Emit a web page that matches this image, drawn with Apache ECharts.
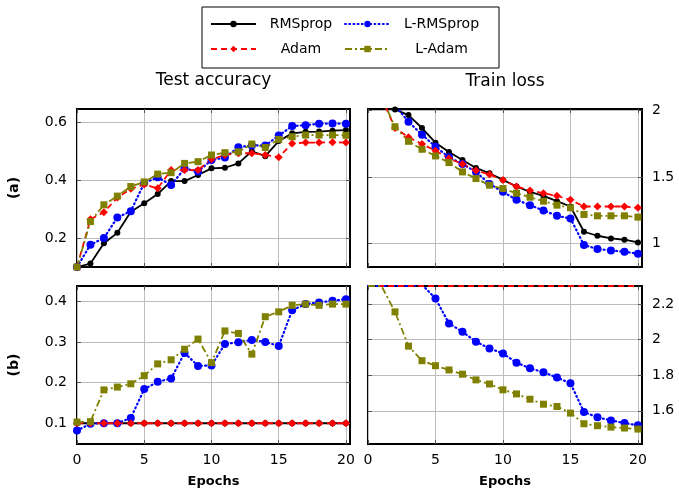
<!DOCTYPE html>
<html><head><meta charset="utf-8">
<script src="https://cdn.jsdelivr.net/npm/echarts@6/dist/echarts.min.js"></script>
<style>html,body{margin:0;padding:0;background:#fff}#c{width:679px;height:495px}</style>
</head><body><div id="c"></div><script>
const epochs = [0,1,2,3,4,5,6,7,8,9,10,11,12,13,14,15,16,17,18,19,20];
const xTicks = [0,5,10,15,20];
const yTicksAccA = [0.2,0.4,0.6];
const yTicksLossA = [1,1.5,2];
const yTicksAccB = [0.1,0.2,0.3,0.4];
const yTicksLossB = [1.6,1.8,2,2.2];

// (a) test accuracy
const accA_RMSprop  = [0.100,0.112,0.182,0.218,0.291,0.320,0.352,0.397,0.397,0.418,0.441,0.443,0.458,0.500,0.483,0.535,0.562,0.567,0.568,0.571,0.573];
const accA_LRMSprop = [0.100,0.177,0.200,0.271,0.293,0.390,0.410,0.383,0.440,0.430,0.470,0.478,0.514,0.520,0.520,0.554,0.587,0.590,0.595,0.596,0.595];
const accA_Adam     = [0.100,0.265,0.289,0.340,0.370,0.385,0.372,0.435,0.435,0.435,0.472,0.487,0.493,0.493,0.487,0.479,0.527,0.530,0.530,0.531,0.530];
const accA_LAdam    = [0.100,0.257,0.315,0.345,0.378,0.394,0.421,0.426,0.458,0.464,0.487,0.495,0.498,0.525,0.513,0.541,0.550,0.556,0.556,0.556,0.555];
// (a) train loss
const lossA_RMSprop  = [2.30,2.15,2.01,1.967,1.87,1.76,1.69,1.63,1.57,1.53,1.48,1.43,1.39,1.36,1.32,1.28,1.09,1.06,1.04,1.03,1.01];
const lossA_LRMSprop = [2.30,2.15,2.04,1.917,1.82,1.73,1.65,1.60,1.54,1.45,1.39,1.33,1.29,1.25,1.21,1.19,0.99,0.96,0.95,0.94,0.925];
const lossA_Adam     = [2.30,2.10,1.87,1.80,1.75,1.70,1.64,1.60,1.55,1.52,1.48,1.43,1.40,1.38,1.36,1.33,1.28,1.28,1.28,1.28,1.27];
const lossA_LAdam    = [2.30,2.10,1.88,1.77,1.71,1.66,1.61,1.54,1.49,1.44,1.415,1.38,1.35,1.32,1.29,1.27,1.22,1.21,1.21,1.21,1.20];
// (b) test accuracy
const accB_RMSprop  = [0.1,0.1,0.1,0.1,0.1,0.1,0.1,0.1,0.1,0.1,0.1,0.1,0.1,0.1,0.1,0.1,0.1,0.1,0.1,0.1,0.1];
const accB_LRMSprop = [0.082,0.099,0.100,0.100,0.113,0.184,0.202,0.210,0.273,0.241,0.242,0.295,0.299,0.305,0.300,0.290,0.378,0.393,0.397,0.401,0.405];
const accB_Adam     = [0.1,0.1,0.1,0.1,0.1,0.1,0.1,0.1,0.1,0.1,0.1,0.1,0.1,0.1,0.1,0.1,0.1,0.1,0.1,0.1,0.1];
const accB_LAdam    = [0.103,0.104,0.182,0.189,0.197,0.217,0.246,0.256,0.282,0.307,0.249,0.327,0.321,0.270,0.362,0.374,0.390,0.393,0.390,0.393,0.393];
// (b) train loss
const lossB_RMSprop  = [2.3026,2.3026,2.3026,2.3026,2.3026,2.3026,2.3026,2.3026,2.3026,2.3026,2.3026,2.3026,2.3026,2.3026,2.3026,2.3026,2.3026,2.3026,2.3026,2.3026,2.3026];
const lossB_LRMSprop = [2.3026,2.3026,2.3026,2.3026,2.31,2.232,2.092,2.045,1.989,1.951,1.923,1.871,1.839,1.817,1.787,1.755,1.593,1.563,1.546,1.531,1.518];
const lossB_Adam     = [2.3026,2.3026,2.3026,2.3026,2.3026,2.3026,2.3026,2.3026,2.3026,2.3026,2.3026,2.3026,2.3026,2.3026,2.3026,2.3026,2.3026,2.3026,2.3026,2.3026,2.3026];
const lossB_LAdam    = [2.3026,2.3026,2.157,1.964,1.882,1.854,1.830,1.806,1.774,1.751,1.718,1.695,1.665,1.637,1.624,1.587,1.527,1.516,1.508,1.503,1.497];

const FF = 'DejaVu Sans';
const X_MAX = 20.3;
const yRanges = [[0.1,0.646],[0.825,2.013],[0.049,0.4375],[1.413,2.3026]];
const yTicksAll = [yTicksAccA, yTicksLossA, yTicksAccB, yTicksLossB];

const styles = {
  'RMSprop':   {color:'#000000', symbol:'circle',  size:6, type:'solid', width:1.8, cap:'butt'},
  'L-RMSprop': {color:'#0000ff', symbol:'circle',  size:8, type:[1,3.2], width:2.2, cap:'round'},
  'Adam':      {color:'#ff0000', symbol:'diamond', size:8, type:[6,4], width:1.8, cap:'butt'},
  'L-Adam':    {color:'#808000', symbol:'rect',    size:7, type:[7,3,2,3], width:1.8, cap:'butt'}
};
function mk(name, vals, idx) {
  const s = styles[name];
  const yMax = yRanges[idx][1];
  return {
    name, type:'line', xAxisIndex: idx, yAxisIndex: idx,
    data: epochs.map((e,i)=>[e, vals[i]]),
    symbol: s.symbol,
    // marks sitting on / beyond the top frame are hidden, as in the reference
    symbolSize: (v) => (idx === 3 && v[1] >= yMax - 0.003) ? 0 : s.size,
    showAllSymbol:true,
    lineStyle:{color:s.color, width:s.width, type:s.type, cap:s.cap},
    itemStyle:{color:s.color, borderWidth:0},
    emphasis:{disabled:true}, animation:false, clip:true
  };
}
function grid(left, top, width, height) {
  return {left, top, width, height, show:true, borderColor:'#000', borderWidth:2, containLabel:false};
}
const grids = [grid(77,109,273,158), grid(368,109,274,158), grid(77,286,273,158), grid(368,286,274,158)];

const GRID_COLOR = '#bdbdbd';
function xAx(gi, pos, primary, labels, name, gap, nameStyle) {
  return {
    type:'value', gridIndex:gi, position:pos, min:0, max:X_MAX,
    axisLine:{show:false, onZero:false},
    axisTick:{show:true, inside:true, length:4, customValues:xTicks, lineStyle:{color:'#555', width:1}},
    axisLabel:{show:labels, customValues:xTicks, margin:9, fontSize:14, fontFamily:FF, color:'#000'},
    splitLine:{show:primary, lineStyle:{color:GRID_COLOR, width:1, type:'solid'}},
    name: name || '', nameLocation:'middle', nameGap: gap || 0,
    nameTextStyle: nameStyle || {}
  };
}
function yAx(gi, pos, primary, name) {
  return {
    type:'value', gridIndex:gi, position:pos, min:yRanges[gi][0], max:yRanges[gi][1],
    axisLine:{show:false, onZero:false},
    axisTick:{show:true, inside:true, length:4, customValues:yTicksAll[gi], lineStyle:{color:'#555', width:1}},
    axisLabel:{show:primary, customValues:yTicksAll[gi], margin:10, fontSize:14, fontFamily:FF, color:'#000'},
    splitLine:{show:primary, lineStyle:{color:GRID_COLOR, width:1, type:'solid'}},
    name: name || '', nameLocation:'middle', nameGap:56, nameRotate:90,
    nameTextStyle:{fontFamily:FF, fontSize:14, fontWeight:'bold', color:'#000'}
  };
}
const titleStyle = {fontFamily:FF, fontSize:17, color:'#000'};
const epStyle = {fontFamily:FF, fontSize:13, fontWeight:'bold', color:'#000'};

const xAxis = [
  xAx(0,'bottom',true,false),
  xAx(1,'bottom',true,false),
  xAx(2,'bottom',true,true,'Epochs',31,epStyle),
  xAx(3,'bottom',true,true,'Epochs',31,epStyle),
  xAx(0,'top',false,false,'Test accuracy',20,titleStyle),
  xAx(1,'top',false,false,'Train loss',19,titleStyle),
  xAx(2,'top',false,false),
  xAx(3,'top',false,false)
];
const yAxis = [
  yAx(0,'left',true,'(a)'),
  yAx(1,'right',true),
  yAx(2,'left',true,'(b)'),
  yAx(3,'right',true),
  yAx(0,'right',false),
  yAx(1,'left',false),
  yAx(2,'right',false),
  yAx(3,'left',false)
];

const series = [
  mk('RMSprop', accA_RMSprop, 0), mk('L-RMSprop', accA_LRMSprop, 0), mk('Adam', accA_Adam, 0), mk('L-Adam', accA_LAdam, 0),
  mk('RMSprop', lossA_RMSprop, 1), mk('L-RMSprop', lossA_LRMSprop, 1), mk('Adam', lossA_Adam, 1), mk('L-Adam', lossA_LAdam, 1),
  mk('RMSprop', accB_RMSprop, 2), mk('L-RMSprop', accB_LRMSprop, 2), mk('Adam', accB_Adam, 2), mk('L-Adam', accB_LAdam, 2),
  mk('RMSprop', lossB_RMSprop, 3), mk('L-RMSprop', lossB_LRMSprop, 3), mk('Adam', lossB_Adam, 3), mk('L-Adam', lossB_LAdam, 3)
];

const chart = echarts.init(document.getElementById('c'), null, {renderer:'canvas'});
chart.setOption({
  animation:false,
  grid: grids, xAxis, yAxis, series,
  legend: {
    data:['RMSprop','L-RMSprop','Adam','L-Adam'],
    left:202, top:7, width:285,
    orient:'horizontal',
    padding:[6,11,8,8],
    itemWidth:45, itemHeight:8, itemGap:3,
    borderColor:'#000', borderWidth:1,
    selectedMode:false,
    formatter: n => (n.indexOf('L-')===0 ? '{b|' : '{a|') + n + '}',
    textStyle:{
      fontFamily:FF, fontSize:14, color:'#000',
      rich:{
        a:{width:80, height:22, lineHeight:22, align:'center', fontFamily:FF, fontSize:14, color:'#000'},
        b:{width:93, height:22, lineHeight:22, align:'center', fontFamily:FF, fontSize:14, color:'#000'}
      }
    }
  }
});
</script></body></html>
